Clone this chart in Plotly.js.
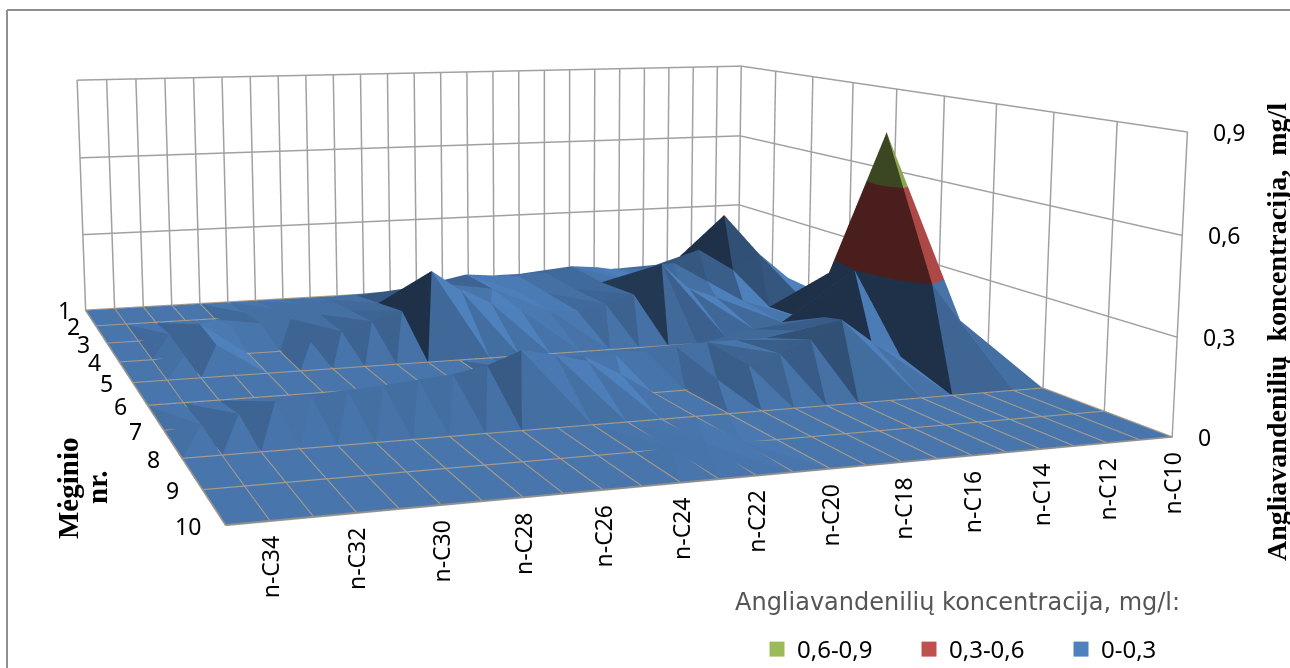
<!DOCTYPE html>
<html><head><meta charset="utf-8">
<script src="https://cdn.plot.ly/plotly-3.0.1.min.js"></script>
<style>html,body{margin:0;padding:0;background:#fff;overflow:hidden;width:1290px;height:668px}#c{position:absolute;left:-725px;top:-582px}</style>
</head><body><div id="c"></div>
<script>
var carbons=['n-C35','n-C34','n-C33','n-C32','n-C31','n-C30','n-C29','n-C28','n-C27','n-C26','n-C25','n-C24','n-C23','n-C22','n-C21','n-C20','n-C19','n-C18','n-C17','n-C16','n-C15','n-C14','n-C13','n-C12','n-C11','n-C10'];
var samples=[1,2,3,4,5,6,7,8,9,10];
var s1 =[0,0,0,0,0,0,0,0,0,0,0,0,.02,.04,.05,.05,.05,.06,.06,.05,.05,.04,.04,.05,.03,0];
var s2 =[0,0,0,0,0,.02,.03,.04,.05,.06,.07,.08,.09,.12,.11,.1,.11,.13,.12,.1,.1,.12,.17,.31,.12,.03];
var s3 =[0,0,.02,.05,.04,.04,.05,.06,.07,.09,.14,.13,.12,.12,.1,.09,.1,.12,.12,.1,.09,.1,.14,.2,.08,.05];
var s4 =[0,0,.01,.04,0,0,.03,.06,.09,.12,.26,.18,.13,.1,.09,.08,.1,.13,.24,.14,.1,.08,.05,.1,.04,.04];
var s5 =[0,0,0,0,0,0,0,0,0,0,0,0,0,0,0,0,0,0,0,.02,.04,.06,.06,.25,.12,.08];
var s6 =[0,0,0,0,0,0,0,0,0,0,0,.03,.05,.06,.06,.06,.07,.08,.08,.08,.1,.14,.3,.78,.3,.1];
var s7 =[0,.01,.035,.065,.07,.08,.09,.1,.11,.13,.17,.15,.12,.07,0,0,.03,.07,.1,.14,.2,.12,.06,.3,.17,.05];
var s8 =[0,0,0,0,0,0,0,0,0,0,0,0,0,0,0,0,0,0,0,0,0,0,0,0,0,0];
var s9 =[0,0,0,0,0,0,0,0,0,0,0,0,.005,.008,.005,0,0,0,0,0,0,0,0,0,0,0];
var s10=[0,0,0,0,0,0,0,0,0,0,0,0,0,0,0,0,0,0,0,0,0,0,0,0,0,0];
var rows=[s1,s2,s3,s4,s5,s6,s7,s8,s9,s10];
var zTicks=[0,.3,.6,.9], zLabels=['0','0,3','0,6','0,9'];
var bands=['0-0,3','0,3-0,6','0,6-0,9'], bandColors=['#4F81BD','#C0504D','#9BBB59'], bandRGB=[[79,129,189],[192,80,77],[155,187,89]];
var legendTitle='Angliavandenilių koncentracija, mg/l:', zTitle='Angliavandenilių  koncentracija,  mg/l';

var WB=2600,HB=1700,left=-725,topp=-582;
var aspect={x:1,y:1.1246,z:.3232};
function px(x){return (x-left)/WB} function py(y){return 1-(y-topp)/HB}

var nc=carbons.length,nr=samples.length;
var sx=aspect.x/(nc-1),sy=aspect.y/(nr-1),sz=aspect.z/.9005;
var light=[.65,0,.76];
function shadeOf(a,b,c){
 var u=[(b[0]-a[0])*sx,(b[1]-a[1])*sy,(b[2]-a[2])*sz],v=[(c[0]-a[0])*sx,(c[1]-a[1])*sy,(c[2]-a[2])*sz];
 var n=[u[1]*v[2]-u[2]*v[1],u[2]*v[0]-u[0]*v[2],u[0]*v[1]-u[1]*v[0]],l=Math.hypot(n[0],n[1],n[2])||1;
 if(n[2]<0)l=-l;
 var d=(n[0]*light[0]+n[1]*light[1]+n[2]*light[2])/l;
 return Math.min(1,.38+.7*Math.max(0,d));
}
function clipZ(poly,lim,keepBelow){
 var out=[];
 poly.forEach(function(p,i){var q=poly[(i+1)%poly.length];
  var pin=keepBelow?p[2]<=lim:p[2]>=lim,qin=keepBelow?q[2]<=lim:q[2]>=lim;
  if(pin)out.push(p);
  if(pin!==qin){var t=(lim-p[2])/(q[2]-p[2]);out.push([p[0]+t*(q[0]-p[0]),p[1]+t*(q[1]-p[1]),lim])}
 });return out;
}
var xs=[],ys=[],zs=[],ii=[],jj=[],kk=[],fc=[];
var limits=[[-1,.3],[.3,.6],[.6,2]];
function addTri(a,b,c){
 var sh=shadeOf(a,b,c);
 limits.forEach(function(lim,band){
  var poly=clipZ(clipZ([a,b,c],lim[0],false),lim[1],true);
  if(poly.length<3)return;
  var rgb=bandRGB[band].map(function(v){return Math.round(v*sh)}),col='rgb('+rgb.join(',')+')';
  var base=xs.length;
  poly.forEach(function(p){xs.push(p[0]);ys.push(p[1]);zs.push(p[2])});
  for(var t=1;t<poly.length-1;t++){ii.push(base);jj.push(base+t);kk.push(base+t+1);fc.push(col)}
 });
}
function pt(r,c){return[c,nr-1-r,rows[r][c]]}
for(var r=0;r<nr-1;r++)for(var c=0;c<nc-1;c++){
 var a=pt(r,c),b=pt(r,c+1),d=pt(r+1,c),e=pt(r+1,c+1);
 if(Math.max(a[2],e[2])>=Math.max(b[2],d[2])){addTri(a,b,e);addTri(a,e,d)}else{addTri(a,b,d);addTri(b,e,d)}
}
var gx=[],gy=[],gz=[],lift=.002;
samples.forEach(function(s,r){gx.push(0,nc-1,null);gy.push(nr-1-r,nr-1-r,null);gz.push(lift,lift,null)});
carbons.forEach(function(s,c){gx.push(c,c,null);gy.push(0,nr-1,null);gz.push(lift,lift,null)});
var traces=[{type:'mesh3d',x:xs,y:ys,z:zs,i:ii,j:jj,k:kk,facecolor:fc,flatshading:true,hoverinfo:'skip',showlegend:false,showscale:false,
 lighting:{ambient:1,diffuse:0,specular:0,roughness:1,fresnel:0}},
 {type:'scatter3d',mode:'lines',x:gx,y:gy,z:gz,line:{color:'#a69a88',width:2},hoverinfo:'skip',showlegend:false},
 {type:'scatter3d',mode:'lines',x:[0,0,nc-1],y:[nr-1,0,0],z:[lift,lift,lift],line:{color:'#8c8c8c',width:3},hoverinfo:'skip',showlegend:false}];
[2,1,0].forEach(function(b){traces.push({type:'scatter3d',mode:'markers',x:[null],y:[null],z:[null],name:bands[b],marker:{symbol:'square',size:15,color:bandColors[b]},hoverinfo:'skip'})});
var ann3=[];
var tf={family:'Noto Sans, sans-serif',size:23,color:'#000'};
carbons.forEach(function(s,c){if((nc-1-c)%2==0)ann3.push({x:c,y:0,z:0,text:s,showarrow:false,textangle:-90,yanchor:'top',yshift:-13,font:tf})});
samples.forEach(function(s,r){ann3.push({x:0,y:nr-1-r,z:0,text:String(s),showarrow:false,xanchor:'right',xshift:-13-r*1.1,font:tf})});
zTicks.forEach(function(v,i){ann3.push({x:nc-1,y:0,z:v,text:zLabels[i],showarrow:false,xanchor:'left',xshift:24,font:tf})});
var ax=function(vals,range){return{range:range,tickvals:vals,showticklabels:false,ticks:'',title:{text:''},showgrid:true,gridcolor:'#a0a0a0',gridwidth:3,showline:false,zeroline:false,showbackground:false,showspikes:false,autorange:false}};
var serif='Liberation Serif, serif';
var layout={width:WB,height:HB,margin:{l:0,r:0,t:0,b:0},paper_bgcolor:'#fff',
 scene:{domain:{x:[0,1],y:[0,1]},aspectmode:'manual',aspectratio:aspect,
  camera:{eye:{x:-.7978,y:-2.3402,z:.3610},center:{x:-.4686,y:-1.4097,z:.2006},up:{x:.0517,y:.1518,z:.9871},projection:{type:'perspective'}},
  xaxis:ax(carbons.map(function(s,i){return i}),[0,nc-1]),yaxis:ax(samples.map(function(s,i){return i}),[0,nr-1]),zaxis:ax(zTicks,[0,.9005]),annotations:ann3},
 legend:{orientation:'h',x:px(757),y:py(672),xanchor:'left',yanchor:'bottom',entrywidth:107,entrywidthmode:'pixels',font:{family:'Noto Sans, sans-serif',size:24,color:'#000'},bgcolor:'rgba(0,0,0,0)'},
 annotations:[
  {x:px(733),y:py(602),xanchor:'left',yanchor:'middle',showarrow:false,text:legendTitle,font:{family:'DejaVu Sans, sans-serif',size:24,color:'#555'}},
  {x:px(1277),y:py(332),xanchor:'center',yanchor:'middle',showarrow:false,textangle:-90,text:'<b>'+zTitle+'</b>',font:{family:serif,size:28,color:'#000'}},
  {x:px(68),y:py(488),xanchor:'center',yanchor:'middle',showarrow:false,textangle:-90,text:'<b>Mėginio</b>',font:{family:serif,size:29,color:'#000'}},
  {x:px(97),y:py(487),xanchor:'center',yanchor:'middle',showarrow:false,textangle:-90,text:'<b>nr.</b>',font:{family:serif,size:29,color:'#000'}}],
 shapes:[{type:'line',x0:px(7),x1:px(7),y0:py(668),y1:py(10),xref:'paper',yref:'paper',line:{color:'#8f8f8f',width:2}},{type:'line',xref:'paper',yref:'paper',x0:px(7),x1:px(1290),y0:py(10),y1:py(10),line:{color:'#8f8f8f',width:2}}]};
layout.annotations.forEach(function(a){a.xref='paper';a.yref='paper'});
Plotly.newPlot('c',traces,layout,{displayModeBar:false,scrollZoom:false});
</script></body></html>
